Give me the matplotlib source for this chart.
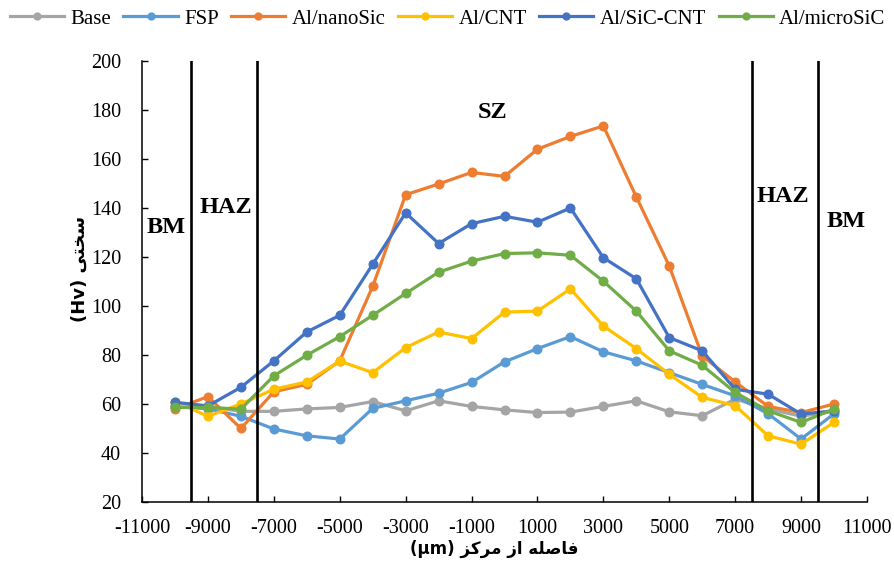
import matplotlib
matplotlib.use("Agg")
import matplotlib.pyplot as plt

# distance from centre (um)
dist = [-10000, -9000, -8000, -7000, -6000, -5000, -4000, -3000, -2000, -1000, 0,
        1000, 2000, 3000, 4000, 5000, 6000, 7000, 8000, 9000, 10000]

base = [59, 59, 57, 57, 58, 58.6, 61, 57.2, 61.3, 59, 57.6,
        56.5, 56.7, 59, 61.3, 56.8, 55.2, 62, 58, 55, 57]
fsp = [59, 58, 55, 49.8, 47, 45.7, 58.2, 61.3, 64.4, 68.8, 77.2,
       82.6, 87.5, 81.3, 77.6, 72.8, 68, 63.3, 56, 45.7, 56]
nano_sic = [58, 63, 50, 65, 68, 77.6, 108, 145.4, 149.8, 154.5, 152.9,
            164, 169.2, 173.5, 144.5, 116.3, 79.6, 69, 59, 56.5, 60]
al_cnt = [61, 55, 60, 66, 69, 77.5, 72.8, 83, 89.4, 86.7, 97.5,
          97.9, 107, 91.8, 82.6, 72.1, 62.7, 59.3, 47, 43.6, 52.5]
sic_cnt = [60.7, 59.2, 66.8, 77.6, 89.4, 96.2, 117, 138, 125.5, 133.6, 136.6,
           134.2, 140, 119.7, 111.1, 87.1, 81.7, 66, 64, 55.9, 57.2]
micro_sic = [58.6, 58.6, 57.9, 71.5, 79.9, 87.5, 96.2, 105.1, 113.8, 118.3, 121.4,
             121.7, 120.7, 110.1, 97.9, 81.7, 75.8, 64.7, 57.2, 52.5, 57.9]

names = ["Base", "FSP", "Al/nanoSic", "Al/CNT", "Al/SiC-CNT", "Al/microSiC"]
colours = ["#A5A5A5", "#5B9BD5", "#ED7D31", "#FFC000", "#4472C4", "#70AD47"]

zone_lines = [-9500, -7500, 7500, 9500]
zone_labels = [("BM", -10270, 132), ("HAZ", -8450, 140), ("SZ", -350, 179),
               ("HAZ", 8450, 144.5), ("BM", 10370, 134.5)]

# --- tiny arabic/persian shaper (matplotlib has no bidi / joining) ---
# letter: (isolated, final, initial, medial)
forms = {
    "ف": ("\uFED1", "\uFED2", "\uFED3", "\uFED4"),
    "ا": ("\uFE8D", "\uFE8E", None, None),
    "ص": ("\uFEB9", "\uFEBA", "\uFEBB", "\uFEBC"),
    "ل": ("\uFEDD", "\uFEDE", "\uFEDF", "\uFEE0"),
    "ه": ("\uFEE9", "\uFEEA", "\uFEEB", "\uFEEC"),
    "ز": ("\uFEAF", "\uFEB0", None, None),
    "م": ("\uFEE1", "\uFEE2", "\uFEE3", "\uFEE4"),
    "ر": ("\uFEAD", "\uFEAE", None, None),
    "ک": ("\uFED9", "\uFEDA", "\uFEDB", "\uFEDC"),
    "س": ("\uFEB1", "\uFEB2", "\uFEB3", "\uFEB4"),
    "خ": ("\uFEA5", "\uFEA6", "\uFEA7", "\uFEA8"),
    "ت": ("\uFE95", "\uFE96", "\uFE97", "\uFE98"),
    "ی": ("\uFEEF", "\uFEF0", "\uFEF3", "\uFEF4"),
}


def shape_word(w):
    out = []
    for i, ch in enumerate(w):
        f = forms[ch]
        prev_joins = i > 0 and forms[w[i - 1]][2] is not None
        next_ok = i < len(w) - 1 and f[2] is not None
        if prev_joins and next_ok:
            out.append(f[3])
        elif prev_joins:
            out.append(f[1])
        elif next_ok:
            out.append(f[2])
        else:
            out.append(f[0])
    return "".join(out)[::-1]


def rtl(words, latin):
    return latin + " " + " ".join(shape_word(w) for w in reversed(words))


xlab = rtl(["فاصله", "از", "مرکز"], "(μm)")
ylab = rtl(["سختی"], "(Hv)")

plt.rcParams["font.family"] = ["Liberation Serif", "DejaVu Serif"]
plt.rcParams["axes.unicode_minus"] = False

fig = plt.figure(figsize=(8.95, 5.72), dpi=100)
ax = fig.add_axes([0.1587, 0.1224, 0.81, 0.771])

series = [base, fsp, nano_sic, al_cnt, sic_cnt, micro_sic]
for vals, name, c in zip(series, names, colours):
    ax.plot(dist, vals, color=c, lw=2.3, marker="o", ms=6.2, label=name)

for xv in zone_lines:
    ax.axvline(xv, color="black", lw=1.9, zorder=5)

for txt, xv, yv in zone_labels:
    ax.text(xv, yv, txt, ha="center", va="center", fontsize=17.5,
            fontweight="bold", zorder=6)

ax.set_xlim(-11000, 11000)
ax.set_ylim(20, 200)
ax.set_xticks(range(-11000, 11001, 2000))
ax.set_yticks(range(20, 201, 20))
ax.tick_params(direction="in", length=4, width=1, labelsize=14.5)
ax.tick_params(axis="y", pad=15)
ax.tick_params(axis="x", pad=12)
for s in ["top", "right"]:
    ax.spines[s].set_visible(False)
for s in ["left", "bottom"]:
    ax.spines[s].set_linewidth(1.1)

fig.text(0.552, 0.040, xlab, ha="center", va="center", fontsize=12,
         fontweight="bold", family=["DejaVu Sans"])
fig.text(0.089, 0.53, ylab, ha="center", va="center", rotation=90,
         fontsize=13, fontweight="bold", family=["DejaVu Sans"])

fig.legend(loc="center", bbox_to_anchor=(0.5, 0.967), ncol=6, frameon=False,
           fontsize=15, handlelength=2.6, columnspacing=0.6, handletextpad=0.3,
           markerscale=0.8, borderaxespad=0)

fig.savefig("out.png", dpi=100)
